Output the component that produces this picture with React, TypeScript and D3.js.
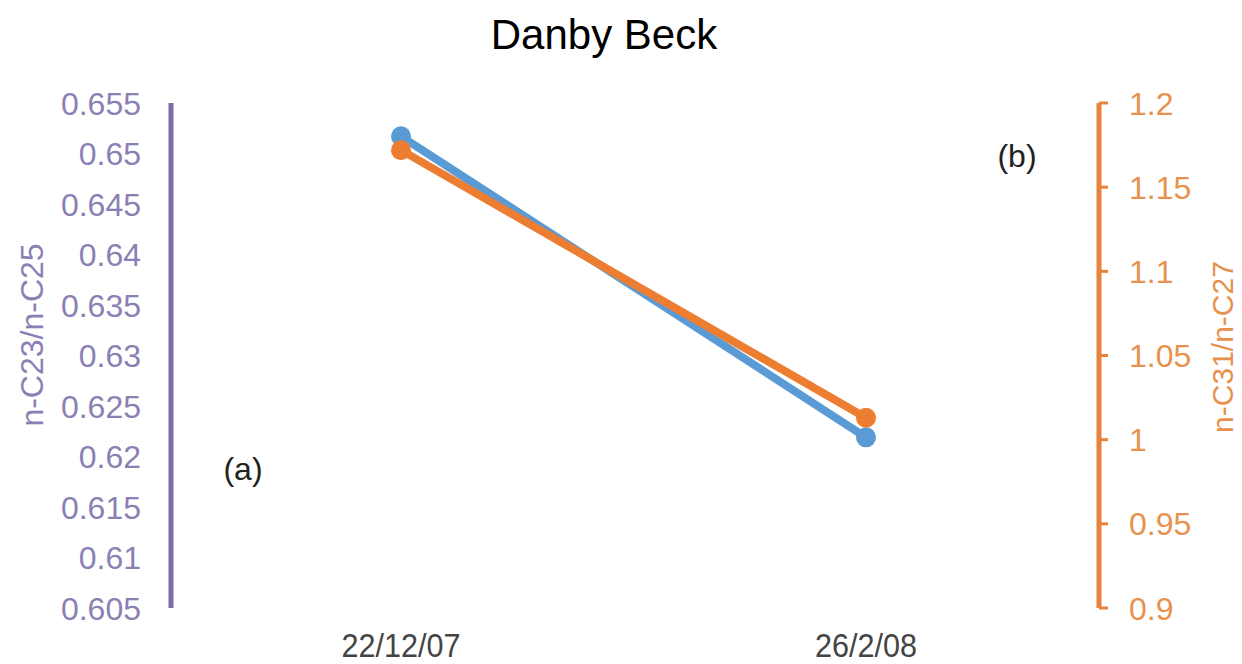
import React from "react";
import * as d3 from "d3";

const dates = ["22/12/07", "26/2/08"];
const ratioC23C25 = [0.6517, 0.6219];
const ratioC31C27 = [1.172, 1.013];
const leftTicks = [0.655, 0.65, 0.645, 0.64, 0.635, 0.63, 0.625, 0.62, 0.615, 0.61, 0.605];
const rightTicks = [1.2, 1.15, 1.1, 1.05, 1, 0.95, 0.9];

const W = 1242;
const H = 664;
const top = 103;
const bottom = 608;

export default function App() {
  const x = d3.scalePoint<string>().domain(dates).range([401, 866]);
  const yL = d3.scaleLinear().domain([0.605, 0.655]).range([bottom, top]);
  const yR = d3.scaleLinear().domain([0.9, 1.2]).range([bottom, top]);
  const blue = "#5b9bd5";
  const orange = "#ed7d31";
  const lineL = d3.line<number>().x((_, i) => x(dates[i])!).y((d) => yL(d));
  const lineR = d3.line<number>().x((_, i) => x(dates[i])!).y((d) => yR(d));
  const font = "Arial, 'Liberation Sans', sans-serif";
  return (
    <svg width={W} height={H} style={{ position: "absolute", left: 0, top: 0, background: "#fff" }}>
      <text x={604} y={49} textAnchor="middle" fontFamily={font} fontSize={42} fill="#000">
        Danby Beck
      </text>
      {/* left axis */}
      <line x1={171} x2={171} y1={yL(0.655)} y2={yL(0.605)} stroke="#7d6aa6" strokeWidth={5} />
      {leftTicks.map((t) => (
        <text key={t} x={141} y={yL(t)} dy="0.36em" textAnchor="end" fontFamily={font} fontSize={32} fill="#8b80b4">
          {String(t)}
        </text>
      ))}
      <text
        transform={`translate(43,${335}) rotate(-90)`}
        textAnchor="middle"
        fontFamily={font}
        fontSize={32}
        fill="#8b80b4"
      >
        n-C23/n-C25
      </text>
      {/* right axis */}
      <line x1={1099} x2={1099} y1={yR(1.2)} y2={yR(0.9)} stroke="#e9823a" strokeWidth={5} />
      {rightTicks.map((t) => (
        <g key={t}>
          <line x1={1099} x2={1108} y1={yR(t)} y2={yR(t)} stroke="#e9823a" strokeWidth={3} />
          <text x={1129} y={yR(t)} dy="0.36em" textAnchor="start" fontFamily={font} fontSize={32} fill="#e8914e">
            {String(t)}
          </text>
        </g>
      ))}
      <text
        transform={`translate(1233,${347}) rotate(-90)`}
        textAnchor="middle"
        fontFamily={font}
        fontSize={30}
        fill="#e8914e"
      >
        n-C31/n-C27
      </text>
      {/* x labels */}
      {dates.map((d) => (
        <text
          key={d}
          x={x(d)}
          y={657}
          textAnchor="middle"
          fontFamily={font}
          fontSize={34}
          fill="#444"
          transform={`translate(${x(d)! * 0.1},0) scale(0.9,1)`}
        >
          {d}
        </text>
      ))}
      <text x={243} y={480} textAnchor="middle" fontFamily={font} fontSize={32} fill="#222">
        (a)
      </text>
      <text x={1017} y={167} textAnchor="middle" fontFamily={font} fontSize={32} fill="#222">
        (b)
      </text>
      {/* series */}
      <path d={lineL(ratioC23C25)!} fill="none" stroke={blue} strokeWidth={8} />
      {ratioC23C25.map((v, i) => (
        <circle key={i} cx={x(dates[i])} cy={yL(v)} r={10} fill={blue} />
      ))}
      <path d={lineR(ratioC31C27)!} fill="none" stroke={orange} strokeWidth={8} />
      {ratioC31C27.map((v, i) => (
        <circle key={i} cx={x(dates[i])} cy={yR(v)} r={10} fill={orange} />
      ))}
    </svg>
  );
}
